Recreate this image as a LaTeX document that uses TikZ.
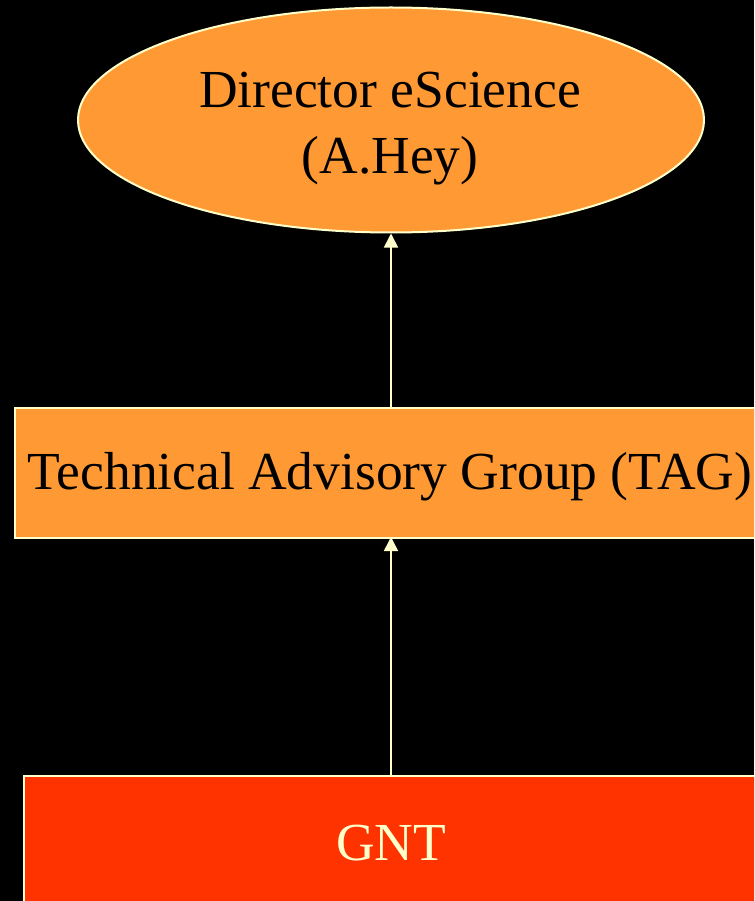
\documentclass[tikz,border=0pt]{standalone}
\usepackage{fontspec}
\setmainfont{Liberation Serif}
\usetikzlibrary{shapes.geometric,arrows.meta}
\definecolor{bgblack}{HTML}{000000}
\definecolor{orangefill}{HTML}{FF9933}
\definecolor{redfill}{HTML}{FF3300}
\definecolor{cream}{HTML}{FFFFCC}
\tikzset{
  box/.style={draw=cream, line width=2pt, inner sep=0pt},
  lbl/.style={font=\fontsize{53.5}{66}\selectfont, align=center, inner sep=0pt},
  conn/.style={draw=cream, line width=1.6pt, -{Triangle[width=14pt,length=14pt]}}
}
\begin{document}
\begin{tikzpicture}[x=1pt,y=-1pt]
\useasboundingbox (0,0) rectangle (754,901);
\fill[bgblack] (0,0) rectangle (754,901);
\clip (0,0) rectangle (754,901);
\node[box, ellipse, fill=orangefill, minimum width=626pt, minimum height=225pt] (dir) at (391,120) {};
\node[lbl] (dirtext) at (390,129) {Director eScience\\(A.Hey)};
\node[box, rectangle, fill=orangefill, minimum width=776pt, minimum height=130pt, anchor=north west] (tag) at (14,407) {};
\node[lbl] (tagtext) at (390,477) {Technical Advisory Group (TAG)};
\node[box, rectangle, fill=redfill, minimum width=776pt, minimum height=136pt, anchor=north west] (gnt) at (23,775) {};
\node[lbl, text=cream] (gnttext) at (391,843) {GNT};
\coordinate (a1) at (391,407);
\coordinate (a2) at (391,775);
\draw[conn] (a1) -- (dir.south);
\draw[conn] (a2) -- (391,537);
\end{tikzpicture}
\end{document}
